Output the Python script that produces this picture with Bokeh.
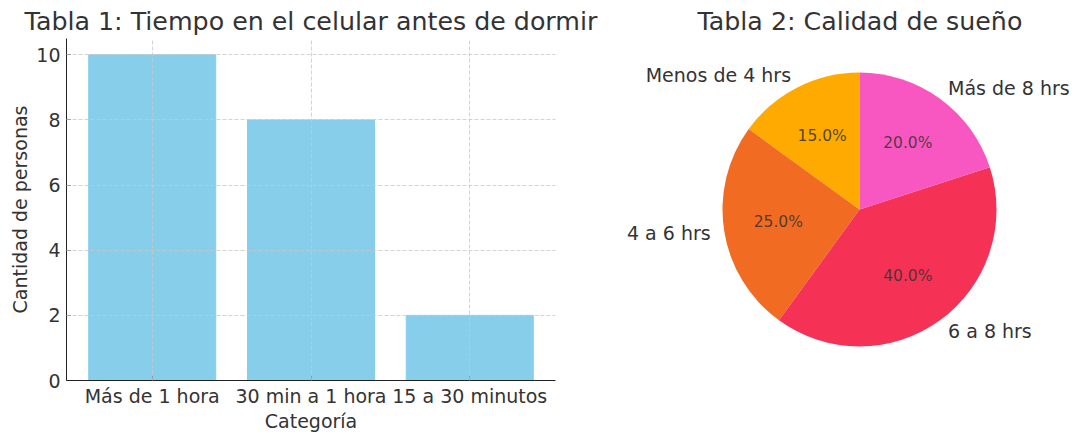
import math
from bokeh.plotting import figure
from bokeh.layouts import row
from bokeh.models import Range1d, FixedTicker, ColumnDataSource
from bokeh.core.properties import value
from bokeh.embed import file_html
from bokeh.resources import INLINE

# ---- data ----
bar_categories = ["Más de 1 hora", "30 min a 1 hora", "15 a 30 minutos"]
bar_values = [10, 8, 2]
y_ticks = [0, 2, 4, 6, 8, 10]

pie_labels = ["Menos de 4 hrs", "4 a 6 hrs", "6 a 8 hrs", "Más de 8 hrs"]
pie_values = [15, 25, 40, 20]
pie_colors = ["#FFAA00", "#F26B22", "#F53255", "#F857C1"]

FONT = "DejaVu Sans"
TXT = "#333333"

# ---- left: bar chart ----
p1 = figure(width=620, height=442,
            x_range=Range1d(-0.54, 2.54), y_range=Range1d(0, 10.5),
            output_backend="svg", toolbar_location=None,
            min_border_left=66, min_border_right=65, min_border_top=38,
            min_border_bottom=62)
p1.title.text = "Tabla 1: Tiempo en el celular antes de dormir"
p1.title.text_font = FONT
p1.title.text_font_size = "25.3px"
p1.title.text_font_style = "normal"
p1.title.text_color = TXT
p1.title.align = "center"
p1.title.standoff = 5
p1.outline_line_color = None

xs = list(range(len(bar_categories)))
src = ColumnDataSource(dict(x=xs, top=bar_values))
p1.vbar(x="x", top="top", width=0.8, bottom=0, source=src, color="#87CEEB")

p1.xaxis.ticker = FixedTicker(ticks=xs)
p1.xaxis.major_label_overrides = {i: c for i, c in enumerate(bar_categories)}
p1.yaxis.ticker = FixedTicker(ticks=y_ticks)
p1.xaxis.axis_label = "Categoría"
p1.yaxis.axis_label = "Cantidad de personas"
for ax in (p1.xaxis[0], p1.yaxis[0]):
    ax.axis_label_text_font = FONT
    ax.axis_label_text_font_size = "19px"
    ax.axis_label_text_font_style = "normal"
    ax.axis_label_text_color = TXT
    ax.major_label_text_font = FONT
    ax.major_label_text_font_size = "19px"
    ax.major_label_text_color = TXT
    ax.major_tick_in = 4
    ax.major_tick_out = 0
    ax.minor_tick_line_color = None
    ax.axis_line_color = "#222222"
    ax.major_tick_line_color = "#222222"
p1.xaxis.major_label_standoff = 4
p1.xaxis.axis_label_standoff = 0
p1.yaxis.major_label_standoff = 6
p1.yaxis.axis_label_standoff = 2
for g in (p1.xgrid[0], p1.ygrid[0]):
    g.grid_line_color = "#c8c8c8"
    g.grid_line_dash = "4 2"
    g.grid_line_width = 0.8
    g.level = "overlay"
p1.xgrid.ticker = FixedTicker(ticks=xs)
p1.ygrid.ticker = FixedTicker(ticks=y_ticks)

# ---- right: pie chart ----
R = 137.0
p2 = figure(width=460, height=442,
            x_range=Range1d(-239 / R, 221 / R), y_range=Range1d(-171 / R, 171 / R),
            output_backend="svg", toolbar_location=None,
            min_border_left=0, min_border_right=0, min_border_top=38,
            min_border_bottom=62, x_axis_location=None, y_axis_location=None)
p2.title.text = "Tabla 2: Calidad de sueño"
p2.title.text_font = FONT
p2.title.text_font_size = "25.3px"
p2.title.text_font_style = "normal"
p2.title.text_color = TXT
p2.title.align = "left"
p2.title.offset = 77
p2.title.standoff = 5
p2.outline_line_color = None
p2.grid.visible = False

total = float(sum(pie_values))
starts, ends, mids = [], [], []
acc = 0.0
for v in pie_values:
    a0 = math.pi / 2 + 2 * math.pi * acc / total
    acc += v
    a1 = math.pi / 2 + 2 * math.pi * acc / total
    starts.append(a0)
    ends.append(a1)
    mids.append((a0 + a1) / 2)

wsrc = ColumnDataSource(dict(start=starts, end=ends, color=pie_colors))
p2.wedge(x=0, y=0, radius=1.0, start_angle="start", end_angle="end",
         fill_color="color", line_color=None, source=wsrc)

lx = [1.1 * math.cos(m) for m in mids]
ly = [1.1 * math.sin(m) for m in mids]
align = ["right" if x < 0 else "left" for x in lx]
lsrc = ColumnDataSource(dict(x=lx, y=ly, t=pie_labels, a=align))
p2.text(x="x", y="y", text="t", text_align="a", text_baseline="middle",
        text_font=value(FONT), text_font_size="19px", text_color=TXT, source=lsrc)

px = [0.6 * math.cos(m) for m in mids]
py = [0.6 * math.sin(m) for m in mids]
pct = ["%.1f%%" % (100.0 * v / total) for v in pie_values]
psrc = ColumnDataSource(dict(x=px, y=py, t=pct))
p2.text(x="x", y="y", text="t", text_align="center", text_baseline="middle",
        text_font=value(FONT), text_font_size="15.5px", text_color=TXT,
        text_alpha=0.85, source=psrc)

layout = row(p1, p2)
open("out.html", "w").write(file_html(layout, INLINE))
